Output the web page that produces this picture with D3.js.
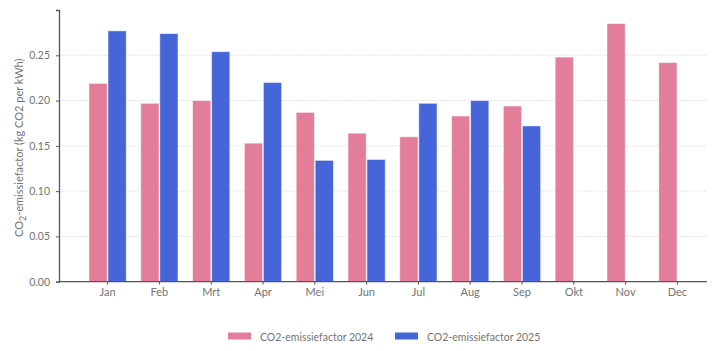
<!DOCTYPE html>
<html>
<head>
<meta charset="utf-8">
<script src="https://cdn.jsdelivr.net/npm/d3@7"></script>
<style>
  body { margin: 0; background: #fff; }
  svg text { font-family: Lato, "Open Sans", sans-serif; fill: #737373; }
</style>
</head>
<body>
<div id="chart"></div>
<script>
const months = ["Jan", "Feb", "Mrt", "Apr", "Mei", "Jun", "Jul", "Aug", "Sep", "Okt", "Nov", "Dec"];
const series = ["CO2-emissiefactor 2024", "CO2-emissiefactor 2025"];
const values2024 = [0.219, 0.197, 0.200, 0.153, 0.187, 0.164, 0.160, 0.183, 0.194, 0.248, 0.285, 0.242];
const values2025 = [0.277, 0.274, 0.254, 0.220, 0.134, 0.135, 0.197, 0.200, 0.172, null, null, null];
const yTicks = [0, 0.05, 0.10, 0.15, 0.20, 0.25];
const colors = ["#e27d9a", "#4565d8"];

const width = 721, height = 351;
const plotLeft = 59, plotRight = 707, plotTop = 10, plotBottom = 281.7;

const svg = d3.select("#chart")
    .append("svg")
    .attr("width", width)
    .attr("height", height);

const y = d3.scaleLinear()
    .domain([0, 0.3])
    .range([plotBottom, plotTop]);

const x = d3.scaleBand()
    .domain(months)
    .range([81.7, 703.3])
    .paddingInner(0.28)
    .paddingOuter(0.14);

const xSub = d3.scaleBand()
    .domain(series)
    .range([0, x.bandwidth()])
    .paddingInner(0.04);

// gridlines
svg.append("g")
    .selectAll("line")
    .data(yTicks.filter(d => d > 0))
    .join("line")
    .attr("x1", plotLeft)
    .attr("x2", plotRight)
    .attr("y1", d => y(d))
    .attr("y2", d => y(d))
    .attr("stroke", "#e6e6e6")
    .attr("stroke-dasharray", "2,1");

// bars
const rows = months.map((m, i) => ({ month: m, vals: [values2024[i], values2025[i]] }));
series.forEach((s, si) => {
    svg.append("g")
        .selectAll("rect")
        .data(rows.filter(r => r.vals[si] != null))
        .join("rect")
        .attr("x", d => x(d.month) + xSub(s))
        .attr("y", d => y(d.vals[si]))
        .attr("width", xSub.bandwidth())
        .attr("height", d => y(0) - y(d.vals[si]))
        .attr("fill", colors[si])
        .attr("stroke", "rgba(255,255,255,0.55)")
        .attr("stroke-width", 1);
});

// y axis
const yAxis = svg.append("g")
    .attr("transform", `translate(${plotLeft},0)`)
    .call(d3.axisLeft(y).tickValues(yTicks).tickFormat(d3.format(".2f")).tickSize(3).tickPadding(6));
yAxis.select(".domain").attr("stroke", "#555").attr("stroke-width", 1.3);
yAxis.selectAll(".tick line").attr("stroke", "#555");
yAxis.selectAll("text").style("font-size", "10.5px");

// x axis
const xAxis = svg.append("g")
    .attr("transform", `translate(0,${plotBottom})`)
    .call(d3.axisBottom(x).tickSize(3).tickPadding(4));
xAxis.select(".domain").attr("d", `M${plotLeft},0H${plotRight}`).attr("stroke", "#555").attr("stroke-width", 1.3);
xAxis.selectAll(".tick line").attr("stroke", "#555");
xAxis.selectAll("text").style("font-size", "11px");

// y axis label
const yLabel = svg.append("text")
    .attr("transform", `translate(23,${(plotTop + plotBottom) / 2 + 2}) rotate(-90)`)
    .attr("text-anchor", "middle")
    .style("font-size", "11px");
yLabel.append("tspan").text("CO");
yLabel.append("tspan").attr("dy", 3).style("font-size", "9px").text("2");
yLabel.append("tspan").attr("dy", -3).text("-emissiefactor (kg CO2 per kWh)");

// legend
const legendX = [228, 395];
const legend = svg.append("g");
series.forEach((s, i) => {
    legend.append("rect")
        .attr("x", legendX[i])
        .attr("y", 332.5)
        .attr("width", 23)
        .attr("height", 7)
        .attr("fill", colors[i]);
    legend.append("text")
        .attr("x", legendX[i] + 32)
        .attr("y", 340.5)
        .style("font-size", "10.5px")
        .text(s);
});
</script>
</body>
</html>
